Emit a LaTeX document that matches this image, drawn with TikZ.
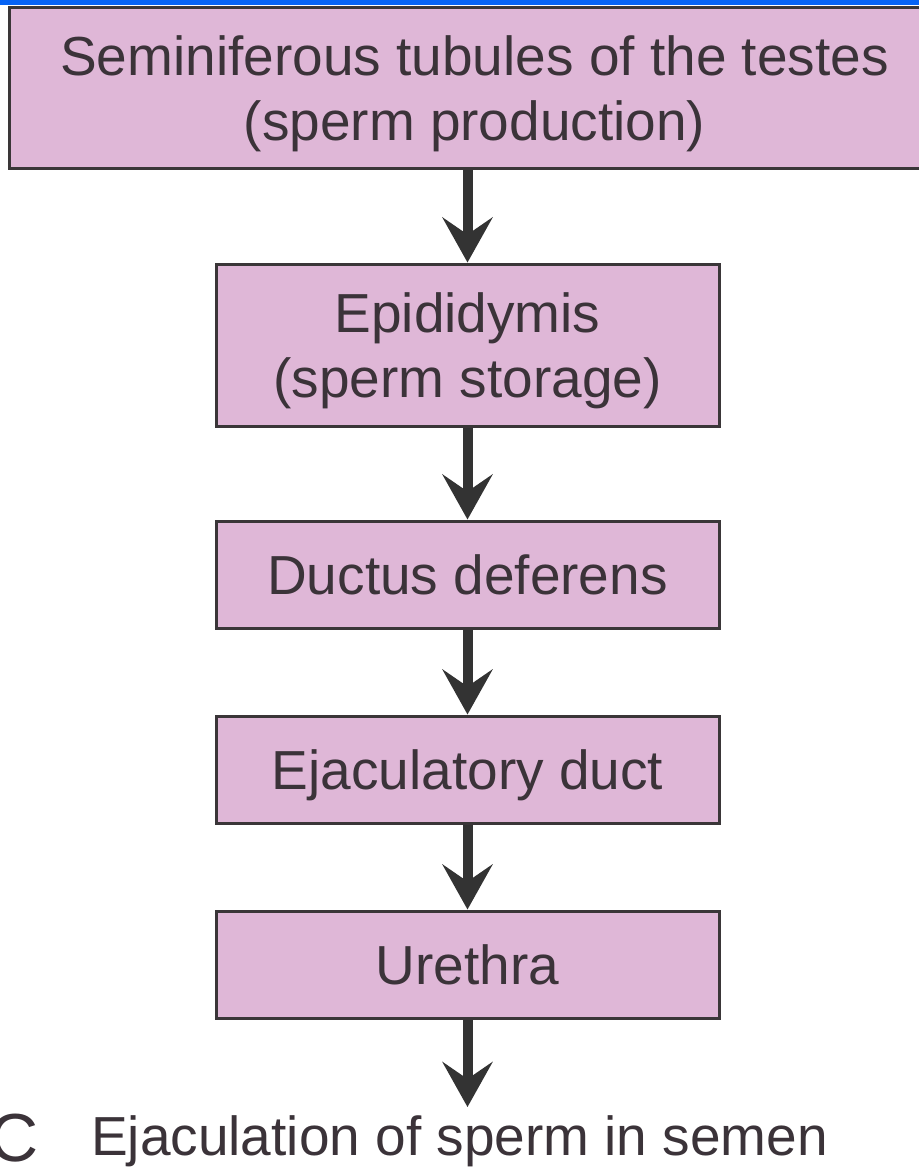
\documentclass[tikz,border=0pt]{standalone}
\usepackage{fontspec}
\setmainfont{Liberation Sans}
\usetikzlibrary{arrows.meta}
\definecolor{boxfill}{HTML}{DFB7D7}
\definecolor{boxline}{HTML}{3A3638}
\definecolor{arrowcol}{HTML}{333333}
\definecolor{txtcol}{HTML}{3B3339}
\definecolor{topblue}{HTML}{0563F5}
\tikzset{
  flowbox/.style={draw=boxline, fill=boxfill, line width=3pt, align=center,
    inner sep=0pt, text=txtcol, text height=40pt, text depth=0pt,
    minimum width=503pt, font=\fontsize{55}{65}\selectfont},
  twoline/.style={text height=105pt, text depth=0pt},
  flowarrow/.style={draw=arrowcol, line width=10pt,
    -{Stealth[length=45pt, width=50pt, inset=17pt]}},
  plaintext/.style={inner sep=0pt, text=txtcol, font=\fontsize{55}{65}\selectfont}
}
\begin{document}
\begin{tikzpicture}[x=1pt, y=-1pt]
\clip (0,0) rectangle (919,1171);
\fill[white] (0,0) rectangle (919,1171);
\fill[topblue] (0,0) rectangle (919,5);
\node[flowbox, twoline, minimum width=931pt, minimum height=161pt] (b1) at (474.5,87.5)
  {Seminiferous tubules of the testes\\(sperm production)};
\node[flowbox, twoline, minimum height=162pt] (b2) at (467.5,345)
  {Epididymis\\(sperm storage)};
\node[flowbox, minimum height=107pt] (b3) at (467.5,574.5) {Ductus deferens};
\node[flowbox, minimum height=107pt] (b4) at (467.5,769.5) {Ejaculatory duct};
\node[flowbox, minimum height=107pt] (b5) at (467.5,964.5) {Urethra};
\coordinate (end) at (467.5,1107);
\draw[flowarrow] (b1.south -| b2.south) -- (b2.north);
\draw[flowarrow] (b2.south) -- (b3.north);
\draw[flowarrow] (b3.south) -- (b4.north);
\draw[flowarrow] (b4.south) -- (b5.north);
\draw[flowarrow] (b5.south) -- (end);
\node[plaintext, anchor=base west] (ejac) at (91,1155) {Ejaculation of sperm in semen};
\node[plaintext, anchor=base east, font=\fontsize{68}{70}\selectfont] (panel) at (39,1161) {C};
\end{tikzpicture}
\end{document}
